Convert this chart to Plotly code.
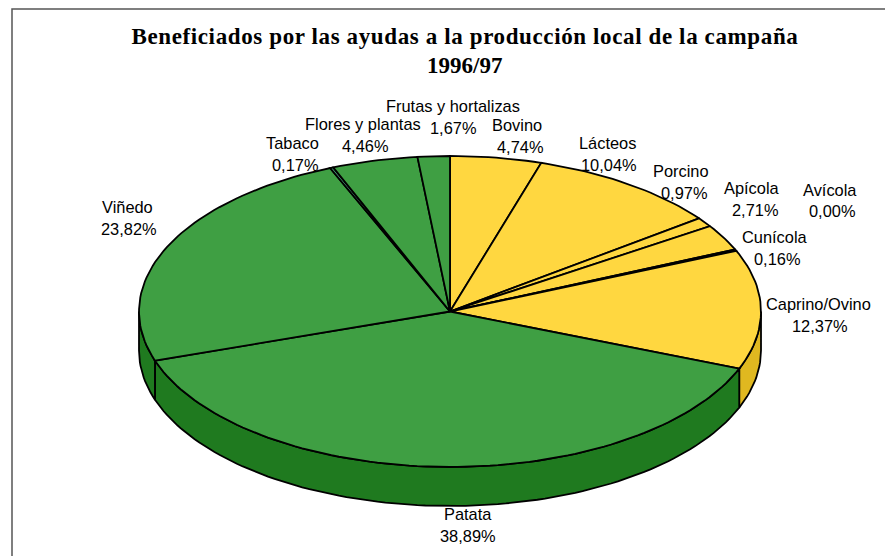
import numpy as np
import plotly.graph_objects as go

categories = ["Bovino", "Lácteos", "Porcino", "Apícola", "Avícola", "Cunícola",
              "Caprino/Ovino", "Patata", "Viñedo", "Tabaco", "Flores y plantas",
              "Frutas y hortalizas"]
values = [4.74, 10.04, 0.97, 2.71, 0.00, 0.16, 12.37, 38.89, 23.82, 0.17, 4.46, 1.67]
title_lines = ["Beneficiados por las ayudas a la producción local de la campaña", "1996/97"]

YEL, YEL_D = "#FFD740", "#E0B820"
GRN, GRN_D = "#3F9F43", "#1F7A1F"
TEAL, TEAL_D = "#4A9F7A", "#2F7A5A"
top_colors = [YEL] * 7 + [GRN, GRN, TEAL, GRN, GRN]
side_colors = [YEL_D] * 7 + [GRN_D, GRN_D, TEAL_D, GRN_D, GRN_D]

# pie geometry in page pixels
CX, CY, RX, RY, DEPTH = 450, 311.5, 311, 155.5, 39

# label centres in page pixels: (name x, name y, value x, value y)
label_pos = {
    "Bovino": (517, 125, 520, 147), "Lácteos": (607, 143, 609, 165),
    "Porcino": (681, 171, 684, 193), "Apícola": (752, 188, 755, 210),
    "Avícola": (830, 190, 832, 211), "Cunícola": (775, 237, 777, 259),
    "Caprino/Ovino": (818, 304, 820, 326), "Patata": (468, 514, 468, 536),
    "Viñedo": (127, 207, 129, 229), "Tabaco": (292, 143, 295, 165),
    "Flores y plantas": (363, 124, 365, 146), "Frutas y hortalizas": (453, 106, 453, 128),
}


def arc(a, b, dy=0.0):
    n = max(2, int(abs(b - a) / 1.5) + 2)
    t = np.radians(np.linspace(a, b, n))
    return CX + RX * np.sin(t), CY - RY * np.cos(t) + dy


fig = go.Figure()
LINE = dict(color="black", width=1.8)
edges = np.concatenate([[0], np.cumsum(values)]) / sum(values) * 360

# outer wall of the disc: only the front half (90 to 270 degrees) shows
for i, name in enumerate(categories):
    a, b = max(edges[i], 90), min(edges[i + 1], 270)
    if b <= a:
        continue
    x1, y1 = arc(a, b)
    x2, y2 = arc(b, a, DEPTH)
    fig.add_trace(go.Scatter(x=np.r_[x1, x2, x1[0]], y=np.r_[y1, y2, y1[0]], mode="lines",
                             fill="toself", fillcolor=side_colors[i], line=LINE,
                             name=name, showlegend=False, hoverinfo="skip"))

# top face wedges
for i, name in enumerate(categories):
    if values[i] == 0:
        continue
    x, y = arc(edges[i], edges[i + 1])
    fig.add_trace(go.Scatter(x=np.r_[CX, x, CX], y=np.r_[CY, y, CY], mode="lines",
                             fill="toself", fillcolor=top_colors[i], line=LINE,
                             name=name, showlegend=False, hoverinfo="text",
                             text=f"{name}: {values[i]:.2f}%".replace(".", ",")))

annotations = []
LABEL_FONT = dict(family="Liberation Sans", size=16.4, color="black")
for name, v in zip(categories, values):
    nx, ny, vx, vy = label_pos[name]
    annotations.append(dict(x=nx, y=ny, text=name, showarrow=False, font=LABEL_FONT))
    annotations.append(dict(x=vx, y=vy, text=f"{v:.2f}%".replace(".", ","), showarrow=False, font=LABEL_FONT))
TITLE_FONT = dict(family="Liberation Serif", size=23, color="black", weight="bold")
annotations.append(dict(x=464.5, y=36, text=title_lines[0], showarrow=False, font=TITLE_FONT))
annotations.append(dict(x=464.5, y=65, text=title_lines[1], showarrow=False, font=TITLE_FONT))

fig.update_layout(
    width=885, height=556, autosize=False, margin=dict(l=0, r=0, t=0, b=0),
    paper_bgcolor="white", plot_bgcolor="white", showlegend=False,
    xaxis=dict(range=[0, 885], visible=False, fixedrange=True),
    yaxis=dict(range=[556, 0], visible=False, fixedrange=True),
    annotations=annotations,
    shapes=[dict(type="rect", x0=12, y0=9, x1=900, y1=600, line=dict(color="#555555", width=1.5))],
)
post = """
document.body.style.margin = '0';
document.documentElement.style.overflow = 'hidden';
document.querySelectorAll('.annotation-text').forEach(function (t) {
  if (t.textContent.indexOf('Beneficiados') === 0) t.style.letterSpacing = '0.62px';
});
"""
fig.write_html("out.html", config={"displayModeBar": False}, post_script=post)
